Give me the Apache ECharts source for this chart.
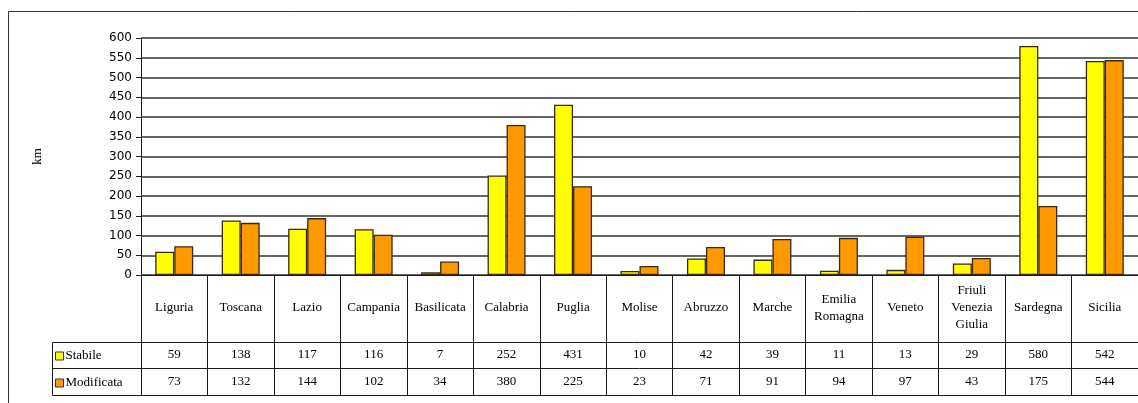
<!DOCTYPE html>
<html>
<head>
<meta charset="utf-8">
<script src="https://cdn.jsdelivr.net/npm/echarts@6/dist/echarts.min.js"></script>
<style>
  html, body { margin: 0; padding: 0; background: #fff; }
  #chart { width: 1138px; height: 403px; }
</style>
</head>
<body>
<div id="chart"></div>
<script>
  // dati (km)
  var regioni = ['Liguria', 'Toscana', 'Lazio', 'Campania', 'Basilicata', 'Calabria', 'Puglia', 'Molise',
    'Abruzzo', 'Marche', 'Emilia\nRomagna', 'Veneto', 'Friuli\nVenezia\nGiulia', 'Sardegna', 'Sicilia'];
  var stabile = [59, 138, 117, 116, 7, 252, 431, 10, 42, 39, 11, 13, 29, 580, 542];
  var modificata = [73, 132, 144, 102, 34, 380, 225, 23, 71, 91, 94, 97, 43, 175, 544];
  var serie = ['Stabile', 'Modificata'];
  var yTicks = [0, 600, 50]; // min, max, passo

  var serif = '"Liberation Serif", "DejaVu Serif", serif';
  var nero = '#1a1a1a';

  var myChart = echarts.init(document.getElementById('chart'));

  function rigaTabella(valori, offset, lunghezza) {
    return {
      type: 'category',
      gridIndex: 0,
      position: 'bottom',
      offset: offset,
      data: regioni,
      axisLine: { show: true, lineStyle: { color: nero, width: 1 } },
      axisTick: { show: true, interval: 0, length: lunghezza, lineStyle: { color: nero } },
      axisLabel: {
        show: !!valori,
        interval: 0,
        margin: Math.round(lunghezza / 2),
        verticalAlign: 'middle',
        fontFamily: serif,
        fontSize: 13,
        color: '#000',
        formatter: function (v, i) { return valori ? String(valori[i]) : ''; }
      }
    };
  }

  var option = {
    backgroundColor: '#fff',
    animation: false,
    grid: { left: 141, top: 38, width: 999, height: 237, containLabel: false },
    legend: {
      orient: 'vertical',
      left: 55,
      top: 349,
      padding: 0,
      itemWidth: 8,
      itemHeight: 8,
      itemGap: 13,
      icon: 'rect',
      itemStyle: { borderColor: '#333', borderWidth: 1 },
      textStyle: { fontFamily: serif, fontSize: 13, color: '#000', lineHeight: 14, padding: [0, 0, 0, -3] },
      data: serie
    },
    xAxis: [
      {
        type: 'category',
        gridIndex: 0,
        position: 'bottom',
        data: regioni,
        axisLine: { show: true, lineStyle: { color: nero, width: 1 } },
        axisTick: { show: true, interval: 0, length: 67, lineStyle: { color: nero } },
        axisLabel: {
          interval: 0,
          margin: 33,
          verticalAlign: 'middle',
          fontFamily: serif,
          fontSize: 13,
          lineHeight: 17,
          color: '#000'
        }
      },
      rigaTabella(stabile, 67, 26),
      rigaTabella(modificata, 93, 27),
      {
        type: 'category', gridIndex: 0, position: 'bottom', offset: 120, data: regioni,
        axisLine: { show: true, lineStyle: { color: nero } },
        axisTick: { show: false }, axisLabel: { show: false }
      }
    ],
    yAxis: {
      type: 'value',
      min: yTicks[0],
      max: yTicks[1],
      interval: yTicks[2],
      name: 'km',
      nameLocation: 'middle',
      nameGap: 97,
      nameRotate: 90,
      nameTextStyle: { fontFamily: serif, fontSize: 13, color: '#000' },
      axisLine: { show: true, lineStyle: { color: nero } },
      axisTick: { show: true, length: 5, lineStyle: { color: nero } },
      axisLabel: { fontFamily: '"DejaVu Sans", sans-serif', fontSize: 12, color: '#000', margin: 9 },
      splitLine: { show: true, lineStyle: { color: '#333', width: 1.5 } }
    },
    series: [
      {
        name: serie[0],
        type: 'bar',
        data: stabile,
        barWidth: 19,
        barGap: '0%',
        itemStyle: { color: '#ffff00', borderColor: '#3b2a14', borderWidth: 1.3 }
      },
      {
        name: serie[1],
        type: 'bar',
        data: modificata,
        barWidth: 19,
        barGap: '0%',
        itemStyle: { color: '#ff9900', borderColor: '#3b2a14', borderWidth: 1.3 }
      }
    ],
    graphic: [
      // cornice esterna
      { type: 'rect', silent: true, shape: { x: 8.5, y: 11.5, width: 1200, height: 500 },
        style: { fill: 'none', stroke: '#333', lineWidth: 1 } },
      // bordi della colonna legenda
      { type: 'polyline', silent: true, shape: { points: [[141, 342.5], [52.5, 342.5], [52.5, 395.5], [141, 395.5]] },
        style: { fill: 'none', stroke: nero, lineWidth: 1 } },
      { type: 'line', silent: true, shape: { x1: 52.5, y1: 368.5, x2: 141, y2: 368.5 },
        style: { stroke: nero, lineWidth: 1 } }
    ]
  };

  myChart.setOption(option);
  window.addEventListener('resize', function () { myChart.resize(); });
</script>
</body>
</html>
